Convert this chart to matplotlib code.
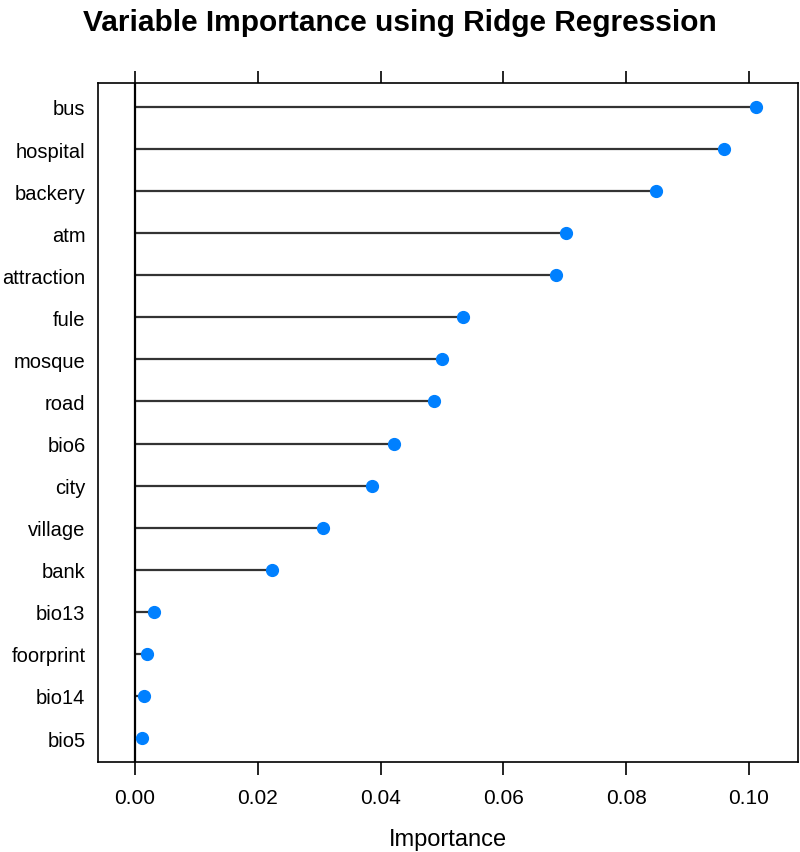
import numpy as np
import matplotlib
matplotlib.use('Agg')
import matplotlib.pyplot as plt

# 变量重要性（从上到下）
variables = ['bus', 'hospital', 'backery', 'atm', 'attraction', 'fule', 'mosque',
             'road', 'bio6', 'city', 'village', 'bank', 'bio13', 'foorprint',
             'bio14', 'bio5']
importance = [0.1012, 0.0960, 0.0848, 0.0702, 0.0686, 0.0534, 0.0500, 0.0487,
              0.0422, 0.0386, 0.0306, 0.0223, 0.0031, 0.0019, 0.0015, 0.0011]
xticks = [0.00, 0.02, 0.04, 0.06, 0.08, 0.10]

plt.rcParams['font.family'] = ['Liberation Sans', 'DejaVu Sans']

fig = plt.figure(figsize=(8, 8.53), dpi=100)
ax = fig.add_axes([0.1225, 0.1055, 0.875, 0.796])

n = len(variables)
y = np.arange(n, 0, -1)

ax.hlines(y, 0, importance, color='#333333', linewidth=1.6, zorder=2)
ax.axvline(0, color='black', linewidth=1.6, zorder=3)
ax.plot(importance, y, 'o', color='#0080ff', markersize=8.5, zorder=4)

ax.set_xlim(-0.00603, 0.1080)
ax.set_ylim(0.43, n + 0.57)

ax.set_xticks(xticks)
ax.set_xticklabels(['%.2f' % t for t in xticks])
ax.set_yticks(y)
ax.set_yticklabels(variables)

ax.tick_params(axis='x', direction='out', length=9, width=1.2, top=True,
               labeltop=False, labelsize=15, pad=10)
ax.tick_params(axis='y', length=0, labelsize=14.5, pad=9)

for s in ax.spines.values():
    s.set_linewidth(1.2)
    s.set_color('black')

ax.set_xlabel('Importance', fontsize=17, labelpad=15)
fig.suptitle('Variable Importance using Ridge Regression', fontsize=21.5,
             fontweight='bold', y=0.99, va='top')

fig.savefig('out.png', dpi=100)
